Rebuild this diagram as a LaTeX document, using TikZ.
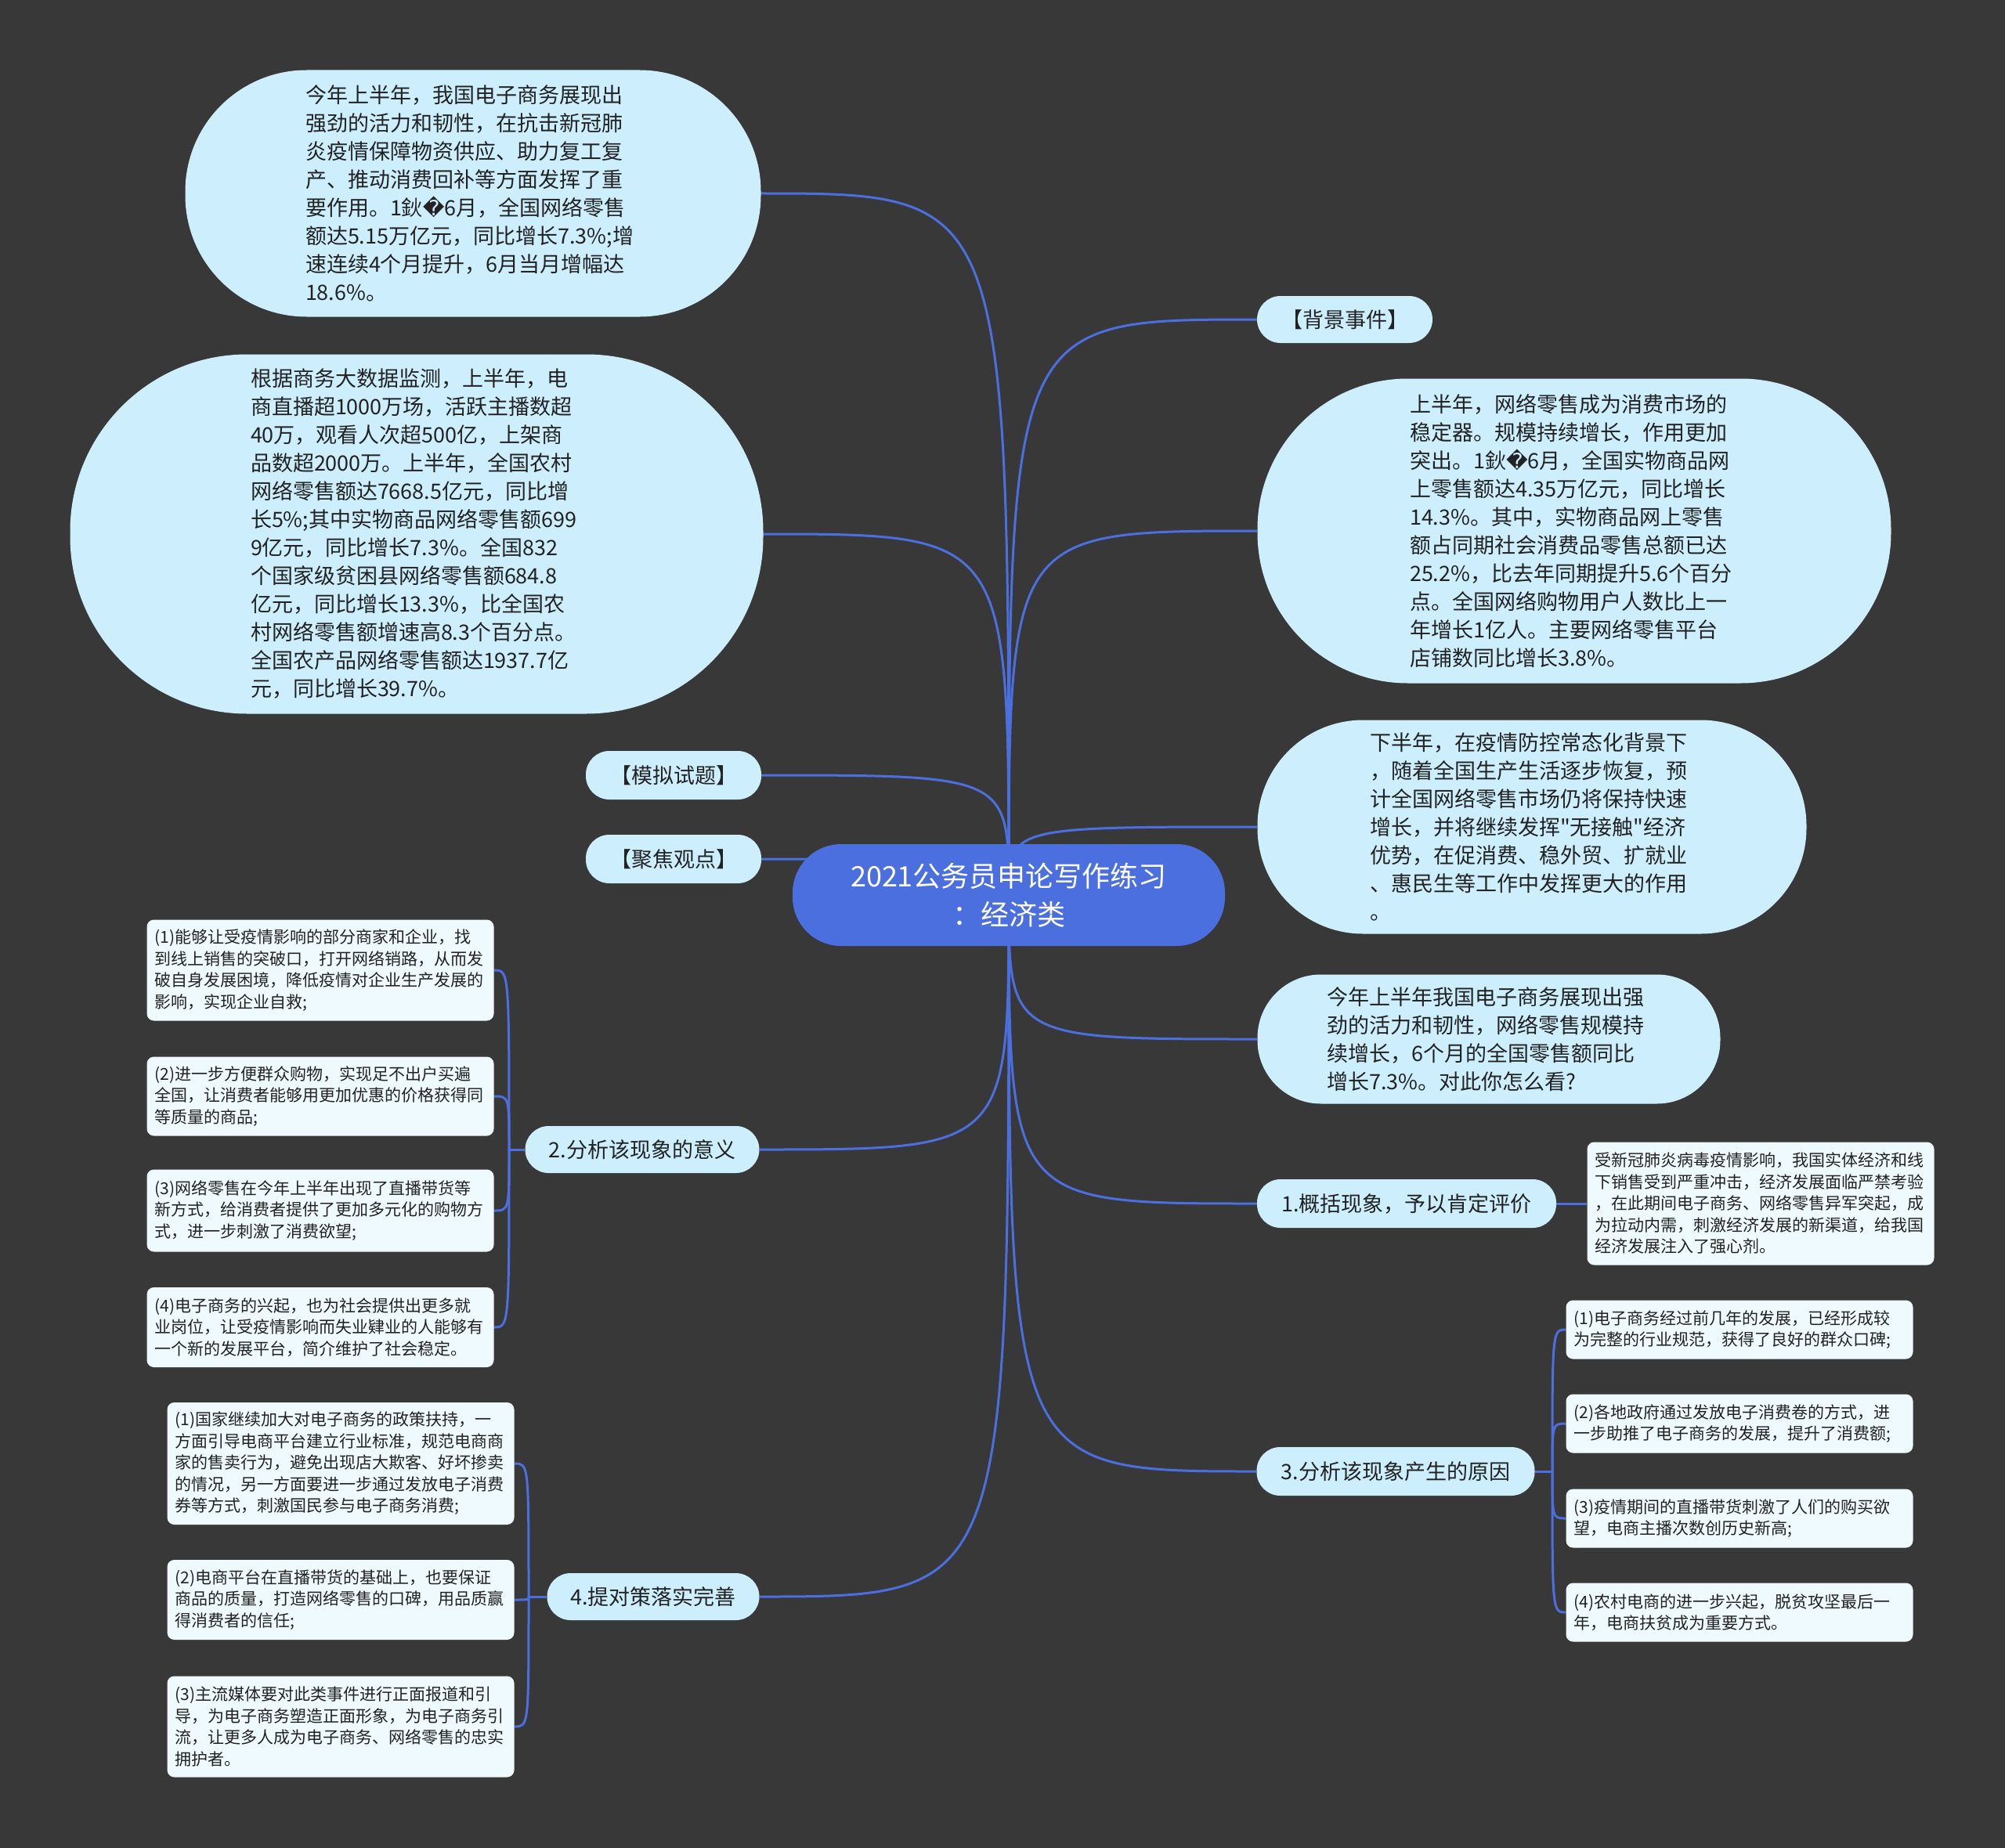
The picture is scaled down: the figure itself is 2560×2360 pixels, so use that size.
\documentclass[tikz,border=0pt]{standalone}
\usepackage{fontspec}
\setmainfont{Noto Sans CJK SC}
\newfontfamily\mapfont{Noto Sans CJK SC}
\newfontfamily\replfont{DejaVu Sans}
\usepackage{tikz}
\usetikzlibrary{backgrounds}
\usepackage{xcolor}
\definecolor{mapbg}{RGB}{57,56,57}
\definecolor{mapblue}{RGB}{76,111,224}
\definecolor{mapcyan}{RGB}{204,238,253}
\definecolor{mappale}{RGB}{239,250,254}
\definecolor{maptext}{RGB}{34,34,34}
\pgfdeclarelayer{canvas}
\pgfsetlayers{canvas,background,main}
\newcommand{\badchar}{{\replfont\symbol{"FFFD}}}
\tikzstyle{rootnode} = [rectangle, rounded corners=62pt, fill=mapblue, text=white,
                        align=center, font=\mapfont\fontsize{36}{49}\selectfont]
\tikzstyle{bubble} = [rectangle, fill=mapcyan, text=maptext, align=left,
                      font=\mapfont\fontsize{27}{36}\selectfont]
\tikzstyle{topic} = [rectangle, rounded corners=30pt, fill=mapcyan, text=maptext,
                     minimum height=62pt, font=\mapfont\fontsize{27}{36}\selectfont]
\tikzstyle{leaf} = [rectangle, rounded corners=9pt, fill=mappale, text=maptext,
                    minimum width=443pt, text width=423pt, inner xsep=10pt, align=left,
                    font=\mapfont\fontsize{21}{27.5}\selectfont]
\tikzstyle{branch} = [mapblue, line width=3pt]

\begin{document}
\begin{tikzpicture}[x=1pt, y=-1pt]

\useasboundingbox (0,0) rectangle (2560,2360);
\begin{pgfonlayer}{canvas}
\fill[mapbg] (0,0) rectangle (2560,2360);
\end{pgfonlayer}

% Root
\node[rootnode, minimum width=552pt, minimum height=130pt] (root) at (1288,1143)
    {2021公务员申论写作练习\\：经济类};

% Left bubbles
\node[bubble, rounded corners=155pt, minimum width=735pt, minimum height=315pt, text width=428pt] (topL) at (604,247) {
    今年上半年，我国电子商务展现出\\
    强劲的活力和韧性，在抗击新冠肺\\
    炎疫情保障物资供应、助力复工复\\
    产、推动消费回补等方面发挥了重\\
    要作用。1鈥\badchar 6月，全国网络零售\\
    额达5.15万亿元，同比增长7.3\%;增\\
    速连续4个月提升，6月当月增幅达\\
    18.6\%。
};
\node[bubble, rounded corners=226pt, minimum width=885pt, minimum height=459pt, text width=424pt] (dataL) at (532,682) {
    根据商务大数据监测，上半年，电\\
    商直播超1000万场，活跃主播数超\\
    40万，观看人次超500亿，上架商\\
    品数超2000万。上半年，全国农村\\
    网络零售额达7668.5亿元，同比增\\
    长5\%;其中实物商品网络零售额699\\
    9亿元，同比增长7.3\%。全国832\\
    个国家级贫困县网络零售额684.8\\
    亿元，同比增长13.3\%，比全国农\\
    村网络零售额增速高8.3个百分点。\\
    全国农产品网络零售额达1937.7亿\\
    元，同比增长39.7\%。
};
\node[topic, minimum width=224pt] (moni) at (860,990) {【模拟试题】};
\node[topic, minimum width=224pt] (jujiao) at (860,1097) {【聚焦观点】};

% Right bubbles
\node[topic, minimum width=224pt, minimum height=60pt] (beijing) at (1717,408) {【背景事件】};
\node[bubble, rounded corners=192pt, minimum width=809pt, minimum height=389pt, text width=420pt] (bgR) at (2010,678) {
    上半年，网络零售成为消费市场的\\
    稳定器。规模持续增长，作用更加\\
    突出。1鈥\badchar 6月，全国实物商品网\\
    上零售额达4.35万亿元，同比增长\\
    14.3\%。其中，实物商品网上零售\\
    额占同期社会消费品零售总额已达\\
    25.2\%，比去年同期提升5.6个百分\\
    点。全国网络购物用户人数比上一\\
    年增长1亿人。主要网络零售平台\\
    店铺数同比增长3.8\%。
};
\node[bubble, rounded corners=135pt, minimum width=701pt, minimum height=273pt, text width=414pt] (futR) at (1956,1056) {
    下半年，在疫情防控常态化背景下\\
    ，随着全国生产生活逐步恢复，预\\
    计全国网络零售市场仍将保持快速\\
    增长，并将继续发挥"无接触"经济\\
    优势，在促消费、稳外贸、扩就业\\
    、惠民生等工作中发挥更大的作用\\
    。
};
\node[bubble, rounded corners=81pt, minimum width=591pt, minimum height=165pt, text width=414pt] (qR) at (1901,1327) {
    今年上半年我国电子商务展现出强\\
    劲的活力和韧性，网络零售规模持\\
    续增长，6个月的全国零售额同比\\
    增长7.3\%。对此你怎么看?
};

% Questions
\node[topic, minimum width=382pt] (n1) at (1796,1537) {1.概括现象，予以肯定评价};
\node[topic, minimum width=299pt, minimum height=60pt] (n2) at (820,1468) {2.分析该现象的意义};
\node[topic, minimum width=355pt] (n3) at (1782,1879) {3.分析该现象产生的原因};
\node[topic, minimum width=271pt, minimum height=60pt] (n4) at (834,2039) {4.提对策落实完善};

% Leaves of 1
\node[leaf, minimum height=157pt] (n1a) at (2248,1537) {
    受新冠肺炎病毒疫情影响，我国实体经济和线\\
    下销售受到严重冲击，经济发展面临严禁考验\\
    ，在此期间电子商务、网络零售异军突起，成\\
    为拉动内需，刺激经济发展的新渠道，给我国\\
    经济发展注入了强心剂。
};

% Leaves of 2
\node[leaf, minimum height=129pt] (n2a) at (409,1239) {
    (1)能够让受疫情影响的部分商家和企业，找\\
    到线上销售的突破口，打开网络销路，从而发\\
    破自身发展困境，降低疫情对企业生产发展的\\
    影响，实现企业自救;
};
\node[leaf, minimum height=101pt] (n2b) at (409,1400) {
    (2)进一步方便群众购物，实现足不出户买遍\\
    全国，让消费者能够用更加优惠的价格获得同\\
    等质量的商品;
};
\node[leaf, minimum height=105pt] (n2c) at (409,1546) {
    (3)网络零售在今年上半年出现了直播带货等\\
    新方式，给消费者提供了更加多元化的购物方\\
    式，进一步刺激了消费欲望;
};
\node[leaf, minimum height=102pt] (n2d) at (409,1695) {
    (4)电子商务的兴起，也为社会提供出更多就\\
    业岗位，让受疫情影响而失业肄业的人能够有\\
    一个新的发展平台，简介维护了社会稳定。
};

% Leaves of 3
\node[leaf, minimum height=75pt] (n3a) at (2221,1698) {
    (1)电子商务经过前几年的发展，已经形成较\\
    为完整的行业规范，获得了良好的群众口碑;
};
\node[leaf, minimum height=75pt] (n3b) at (2221,1818) {
    (2)各地政府通过发放电子消费卷的方式，进\\
    一步助推了电子商务的发展，提升了消费额;
};
\node[leaf, minimum height=75pt] (n3c) at (2221,1939) {
    (3)疫情期间的直播带货刺激了人们的购买欲\\
    望，电商主播次数创历史新高;
};
\node[leaf, minimum height=75pt] (n3d) at (2221,2059) {
    (4)农村电商的进一步兴起，脱贫攻坚最后一\\
    年，电商扶贫成为重要方式。
};

% Leaves of 4
\node[leaf, minimum height=156pt] (n4a) at (435,1869) {
    (1)国家继续加大对电子商务的政策扶持，一\\
    方面引导电商平台建立行业标准，规范电商商\\
    家的售卖行为，避免出现店大欺客、好坏掺卖\\
    的情况，另一方面要进一步通过发放电子消费\\
    券等方式，刺激国民参与电子商务消费;
};
\node[leaf, minimum height=102pt] (n4b) at (435,2043) {
    (2)电商平台在直播带货的基础上，也要保证\\
    商品的质量，打造网络零售的口碑，用品质赢\\
    得消费者的信任;
};
\node[leaf, minimum height=129pt] (n4c) at (435,2205) {
    (3)主流媒体要对此类事件进行正面报道和引\\
    导，为电子商务塑造正面形象，为电子商务引\\
    流，让更多人成为电子商务、网络零售的忠实\\
    拥护者。
};

% Spines
\coordinate (sp2) at (650,1468);
\coordinate (sp3) at (1982,1879);
\coordinate (sp4) at (675,2039);

% Branches
\begin{scope}[on background layer]
\draw[branch] (root.center) .. controls (root.center |- topL.east) .. (topL.east);
\draw[branch] (root.center) .. controls (root.center |- dataL.east) .. (dataL.east);
\draw[branch] (root.center) .. controls (root.center |- moni.east) .. (moni.east);
\draw[branch] (root.center) .. controls (root.center |- jujiao.east) .. (jujiao.east);
\draw[branch] (root.center) .. controls (root.center |- beijing.west) .. (beijing.west);
\draw[branch] (root.center) .. controls (root.center |- bgR.west) .. (bgR.west);
\draw[branch] (root.center) .. controls (root.center |- futR.west) .. (futR.west);
\draw[branch] (root.center) .. controls (root.center |- qR.west) .. (qR.west);
\draw[branch] (root.center) .. controls (root.center |- n1.west) .. (n1.west);
\draw[branch] (root.center) .. controls (root.center |- n2.east) .. (n2.east);
\draw[branch] (root.center) .. controls (root.center |- n3.west) .. (n3.west);
\draw[branch] (root.center) .. controls (root.center |- n4.east) .. (n4.east);

\draw[branch] (n1.east) -- (n1a.west);

\draw[branch] (n2.west) -- (sp2);
\draw[branch] (sp2) .. controls (sp2 |- n2a.east) .. (n2a.east);
\draw[branch] (sp2) .. controls (sp2 |- n2b.east) .. (n2b.east);
\draw[branch] (sp2) .. controls (sp2 |- n2c.east) .. (n2c.east);
\draw[branch] (sp2) .. controls (sp2 |- n2d.east) .. (n2d.east);

\draw[branch] (n3.east) -- (sp3);
\draw[branch] (sp3) .. controls (sp3 |- n3a.west) .. (n3a.west);
\draw[branch] (sp3) .. controls (sp3 |- n3b.west) .. (n3b.west);
\draw[branch] (sp3) .. controls (sp3 |- n3c.west) .. (n3c.west);
\draw[branch] (sp3) .. controls (sp3 |- n3d.west) .. (n3d.west);

\draw[branch] (n4.west) -- (sp4);
\draw[branch] (sp4) .. controls (sp4 |- n4a.east) .. (n4a.east);
\draw[branch] (sp4) .. controls (sp4 |- n4b.east) .. (n4b.east);
\draw[branch] (sp4) .. controls (sp4 |- n4c.east) .. (n4c.east);
\end{scope}

\end{tikzpicture}
\end{document}
